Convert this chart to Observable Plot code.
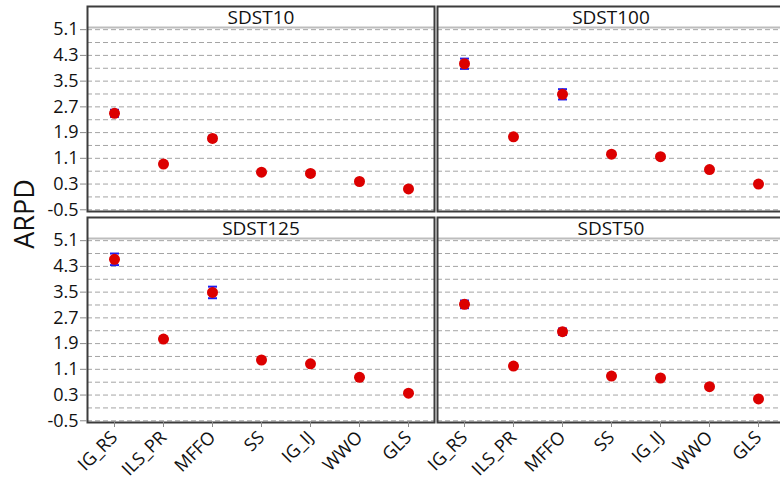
<!DOCTYPE html>
<html>
<head>
<meta charset="utf-8">
<script src="https://cdn.jsdelivr.net/npm/d3@7"></script>
<script src="https://cdn.jsdelivr.net/npm/@observablehq/plot@0.6"></script>
<style>
  html, body { margin: 0; padding: 0; overflow: hidden; background: #fff; }
  #chart svg { display: block; max-width: none !important; }
</style>
</head>
<body>
<div id="chart"></div>
<script>
// Panels (read left-to-right, top-to-bottom) and the methods compared in each
const panels  = ["SDST10", "SDST100", "SDST125", "SDST50"];
const methods = ["IG_RS", "ILS_PR", "MFFO", "SS", "IG_IJ", "WWO", "GLS"];

// Mean ARPD and half-width of the interval per method
const arpdSDST10  = [2.50, 0.92, 1.72, 0.67, 0.63, 0.38, 0.15];
const errSDST10   = [0.11, 0.05, 0.08, 0.04, 0.04, 0.03, 0.03];
const arpdSDST100 = [4.04, 1.77, 3.09, 1.23, 1.15, 0.75, 0.30];
const errSDST100  = [0.16, 0.06, 0.16, 0.05, 0.05, 0.04, 0.03];
const arpdSDST125 = [4.52, 2.04, 3.49, 1.39, 1.27, 0.85, 0.36];
const errSDST125  = [0.18, 0.06, 0.18, 0.05, 0.05, 0.04, 0.03];
const arpdSDST50  = [3.12, 1.20, 2.27, 0.89, 0.83, 0.56, 0.18];
const errSDST50   = [0.12, 0.05, 0.10, 0.04, 0.04, 0.03, 0.02];

// Axis ticks
const yTickValues = [-0.5, 0.3, 1.1, 1.9, 2.7, 3.5, 4.3, 5.1];
const yGridValues = [-0.5, -0.1, 0.3, 0.7, 1.1, 1.5, 1.9, 2.3, 2.7, 3.1, 3.5, 3.9, 4.3, 4.7, 5.1];

// y extent of each panel: data area plus a title strip on top
const yDomain = [-0.553, 5.82];
const stripEdge = 5.17;

const series = {
  SDST10:  [arpdSDST10,  errSDST10],
  SDST100: [arpdSDST100, errSDST100],
  SDST125: [arpdSDST125, errSDST125],
  SDST50:  [arpdSDST50,  errSDST50]
};

// 2 x 2 wrap of the panels
const panelInfo = panels.map((name, i) => ({name, col: i % 2, row: Math.floor(i / 2)}));
const rows = panelInfo.flatMap(p => {
  const [vals, errs] = series[p.name];
  return methods.map((m, j) => ({
    panel: p.name, col: p.col, row: p.row, method: m,
    value: vals[j], lo: vals[j] - errs[j], hi: vals[j] + errs[j]
  }));
});

// Horizontal cap for the interval ends
const capSymbol = {
  draw(ctx, size) {
    const w = Math.sqrt(size / Math.PI);
    ctx.moveTo(-w, 0);
    ctx.lineTo(w, 0);
  }
};

const blue = "#1e1ef0";
const red = "#dc0000";

const chart = Plot.plot({
  width: 790,
  height: 485,
  marginLeft: 87,
  marginRight: 6,
  marginTop: 5,
  marginBottom: 62,
  style: {fontFamily: "'Open Sans', 'Noto Sans', sans-serif", fontSize: "18px", color: "#111", maxWidth: "none"},
  fx: {domain: [0, 1], paddingInner: 0.0086, paddingOuter: 0, axis: null},
  fy: {domain: [0, 1], paddingInner: 0.028, paddingOuter: 0, axis: null},
  x: {type: "point", domain: methods, padding: 0.5},
  y: {domain: yDomain},
  marks: [
    Plot.gridY(yGridValues, {stroke: "#a4a4a4", strokeOpacity: 1, strokeDasharray: "5,3"}),
    Plot.ruleY([stripEdge], {stroke: "#bdbdbd", strokeWidth: 2}),
    Plot.frame({stroke: "#3c3c3c", strokeWidth: 2}),
    Plot.text(panelInfo, {fx: "col", fy: "row", text: "name", frameAnchor: "top", lineAnchor: "middle", dy: 11,
      fontSize: 19, fontWeight: 500, fill: "#111"}),
    Plot.ruleX(rows, {fx: "col", fy: "row", x: "method", y1: "lo", y2: "hi", stroke: blue, strokeWidth: 2}),
    Plot.dot(rows, {fx: "col", fy: "row", x: "method", y: "lo", symbol: capSymbol, r: 4.5, stroke: blue, strokeWidth: 2}),
    Plot.dot(rows, {fx: "col", fy: "row", x: "method", y: "hi", symbol: capSymbol, r: 4.5, stroke: blue, strokeWidth: 2}),
    Plot.dot(rows, {fx: "col", fy: "row", x: "method", y: "value", r: 5.5, fill: red, stroke: "none"}),
    Plot.axisY(yTickValues, {anchor: "left", tickSize: 7, tickPadding: 2, stroke: "#8a8a8a", fill: "#111",
      fontSize: 18, fontWeight: 500, tickFormat: d => d.toFixed(1), label: null}),
    Plot.axisX({anchor: "bottom", tickSize: 5, tickPadding: 7, tickRotate: -45, stroke: "#8a8a8a", fill: "#111",
      fontSize: 18, fontWeight: 500, label: null})
  ]
});

// Shared y-axis title spanning both panel rows
d3.select(chart).append("text")
  .attr("transform", "translate(34,214) rotate(-90)")
  .attr("text-anchor", "middle")
  .attr("font-size", 27)
  .attr("font-weight", 500)
  .attr("fill", "#111")
  .text("ARPD");

document.getElementById("chart").append(chart);
</script>
</body>
</html>
